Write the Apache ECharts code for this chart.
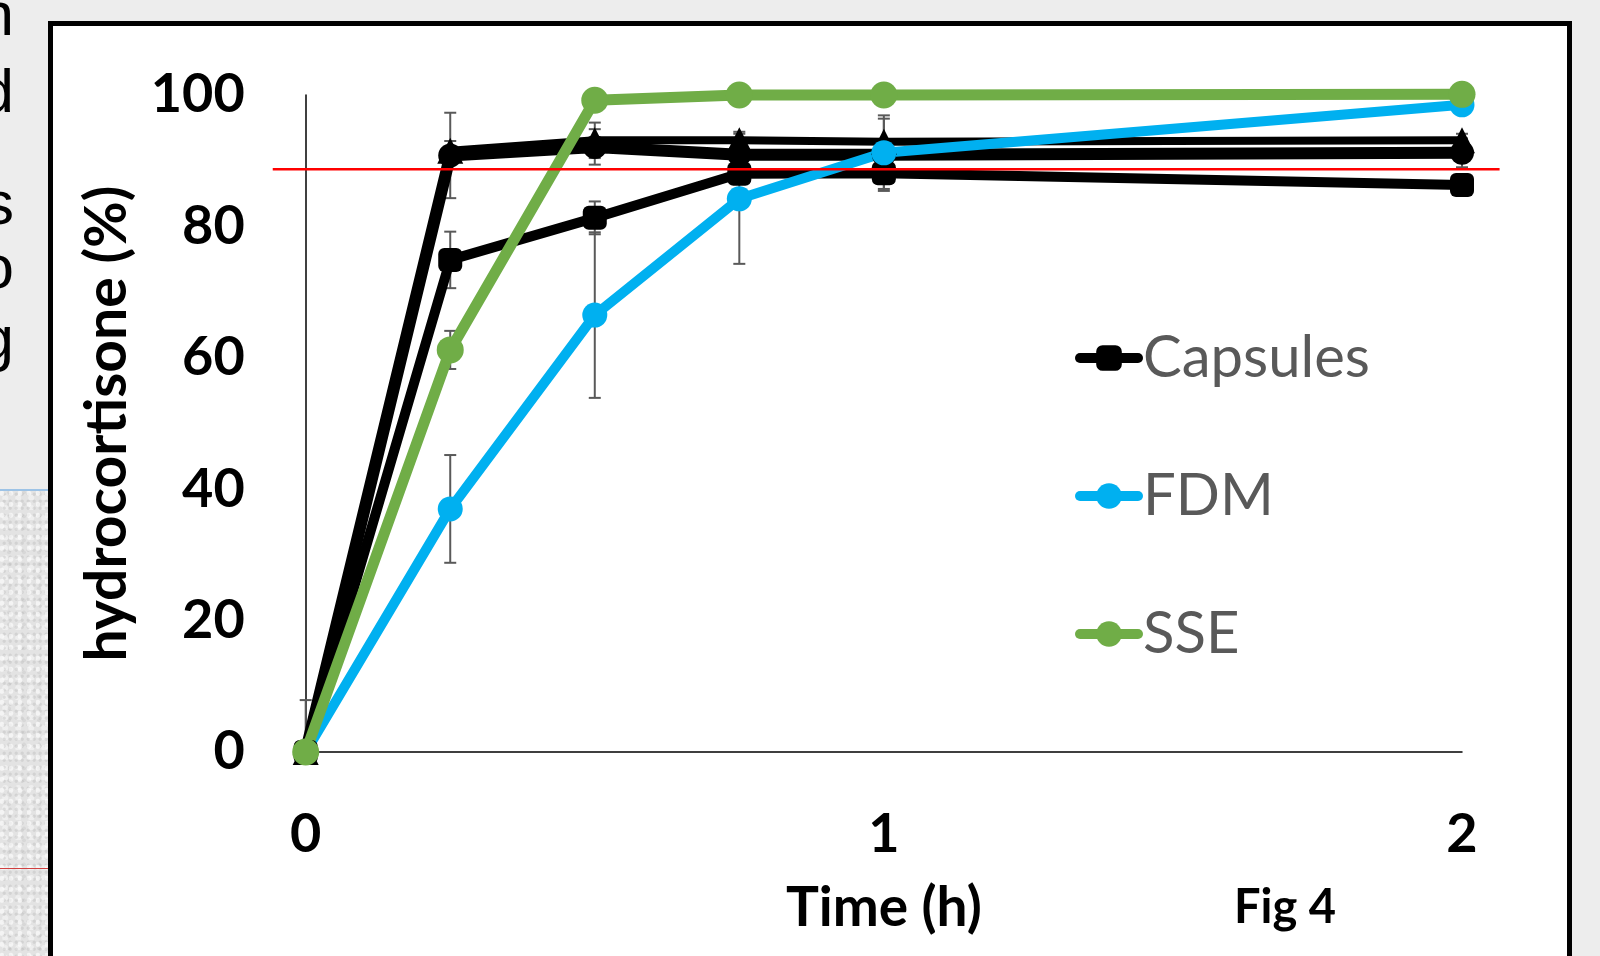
<!DOCTYPE html>
<html>
<head>
<meta charset="utf-8">
<script src="https://cdn.jsdelivr.net/npm/echarts@6/dist/echarts.min.js"></script>
<style>
html,body{margin:0;padding:0;width:1600px;height:956px;overflow:hidden;background:#ededed;}
.frag{position:absolute;left:-100px;width:114px;text-align:right;font-family:"Liberation Sans",sans-serif;font-size:62px;line-height:62px;color:#000;white-space:nowrap;}
#texture{position:absolute;left:0;top:490px;width:50px;height:466px;background-color:#e3e3e3;
 background-image:
  radial-gradient(circle at 20% 30%, rgba(255,255,255,0.6) 0 2px, transparent 3px),
  radial-gradient(circle at 70% 60%, rgba(160,160,160,0.25) 0 1.2px, transparent 2px),
  radial-gradient(circle at 40% 80%, rgba(250,250,250,0.5) 0 2.5px, transparent 3.5px),
  radial-gradient(circle at 60% 20%, rgba(180,180,180,0.25) 0 1.5px, transparent 2.2px);
 background-size:9px 11px,6px 7px,13px 10px,15px 12px;}
#blueline{position:absolute;left:0;top:489px;width:50px;height:2px;background:#9dc3e6;}
#redline{position:absolute;left:0;top:868px;width:50px;height:1px;background:#d04040;}
#frame{position:absolute;left:48px;top:21px;width:1514px;height:980px;border:5px solid #000;background:#fff;}
#chart{position:absolute;left:0;top:0;width:1600px;height:956px;}
</style>
</head>
<body>
<div class="frag" style="top:-17px">n</div>
<div class="frag" style="top:60px">d</div>
<div class="frag" style="top:172px">s</div>
<div class="frag" style="top:236px">o</div>
<div class="frag" style="top:307px">g</div>
<div id="texture"></div>
<div id="blueline"></div>
<div id="redline"></div>
<div id="frame"></div>
<div id="chart"></div>
<script>
// ---- data ----
const times = [0, 0.25, 0.5, 0.75, 1, 2];
const capsules = [0, 74.9, 81.3, 88.0, 88.1, 86.3];
const capsulesErr = [0, 4.3, 2.5, 1.5, 2.4, 1.0];
const blackTri = [0, 91.5, 93.1, 93.1, 92.9, 93.1];
const blackTriErr = [7.9, 1.5, 2.7, 1.3, 4.0, 1.0];
const blackCirc = [0, 90.8, 92.1, 90.9, 90.9, 91.2];
const blackCircErr = [0, 6.5, 2.7, 1.0, 5.5, 2.2];
const fdm = [0, 37.0, 66.5, 84.2, 91.2, 98.5];
const fdmErr = [0, 8.2, 12.6, 9.9, 1.5, 1.0];
const sse = [0, 61.2, 99.2, 100.0, 100.0, 100.1];
const sseErr = [0, 2.9, 0.5, 0.5, 0.5, 0.3];
const yTicks = [0, 20, 40, 60, 80, 100];
const xTicks = [0, 1, 2];
const limitLevel = 88.7;
const limitSpan = [-0.057, 2.065];
const legendNames = ['Capsules', 'FDM', 'SSE'];

// ---- helpers ----
const pairs = vals => times.map((t, i) => [t, vals[i]]);
const errData = (vals, errs) => times.map((t, i) => [t, Math.max(0, vals[i] - errs[i]), vals[i] + errs[i], errs[i]]);
function errRender(params, api) {
  const e = api.value(3);
  if (!(e > 0)) return null;
  const x = api.value(0), lo = api.value(1), hi = api.value(2);
  const pLo = api.coord([x, lo]), pHi = api.coord([x, hi]);
  const hw = 6;
  const style = {stroke: '#595959', lineWidth: 2};
  const children = [
    {type: 'line', shape: {x1: pLo[0], y1: pLo[1], x2: pHi[0], y2: pHi[1]}, style: style},
    {type: 'line', shape: {x1: pHi[0] - hw, y1: pHi[1], x2: pHi[0] + hw, y2: pHi[1]}, style: style}
  ];
  if (lo > 0) children.push({type: 'line', shape: {x1: pLo[0] - hw, y1: pLo[1], x2: pLo[0] + hw, y2: pLo[1]}, style: style});
  return {type: 'group', children: children};
}
const errSeries = (vals, errs) => ({
  type: 'custom', renderItem: errRender, data: errData(vals, errs),
  encode: {x: 0, y: [1, 2]}, z: 1, silent: true, clip: false
});
const lineSeries = (name, vals, color, width, symbol, size) => ({
  name: name, type: 'line', data: pairs(vals), z: 2, clip: false,
  symbol: symbol, symbolSize: size, showAllSymbol: true,
  lineStyle: {color: color, width: width, cap: 'round', join: 'round'},
  itemStyle: {color: color}, emphasis: {disabled: true}
});

const chart = echarts.init(document.getElementById('chart'), null, {renderer: 'canvas'});
const boldFont = 'Lato';
chart.setOption({
  animation: false,
  backgroundColor: 'transparent',
  grid: {left: 305.7, right: 138, top: 95, bottom: 204, containLabel: false, outerBoundsMode: 'none'},
  xAxis: {
    type: 'value', min: xTicks[0], max: xTicks[xTicks.length - 1], interval: 1,
    axisLine: {show: true, onZero: false, lineStyle: {color: '#000', width: 1.5}},
    axisTick: {show: false}, splitLine: {show: false},
    axisLabel: {fontFamily: boldFont, fontWeight: 'bold', fontSize: 54, color: '#000', margin: 56},
    name: 'Time (h)', nameLocation: 'middle', nameGap: 129,
    nameTextStyle: {fontFamily: boldFont, fontWeight: 'bold', fontSize: 55, color: '#000'}
  },
  yAxis: {
    type: 'value', min: yTicks[0], max: yTicks[yTicks.length - 1], interval: 20,
    axisLine: {show: true, lineStyle: {color: '#000', width: 1.5}},
    axisTick: {show: false}, splitLine: {show: false},
    axisLabel: {fontFamily: boldFont, fontWeight: 'bold', fontSize: 54, color: '#000', margin: 61},
    name: 'hydrocortisone (%)', nameLocation: 'middle', nameGap: 170,
    nameTextStyle: {fontFamily: boldFont, fontWeight: 'bold', fontSize: 57, color: '#000'}
  },
  legend: {
    data: legendNames, orient: 'vertical', left: 1070, top: 323,
    itemWidth: 58, itemHeight: 32, itemGap: 78,
    lineStyle: {width: 10},
    textStyle: {fontFamily: 'Lato', fontSize: 58, color: '#595959', lineHeight: 60},
    selectedMode: false
  },
  graphic: [{
    id: 'figlabel', type: 'text', left: 1234, top: 884,
    style: {text: 'Fig 4', fontFamily: boldFont, fontWeight: 'bold', fontSize: 47, fill: '#000'}
  }],
  series: [
    errSeries(blackTri, blackTriErr),
    errSeries(blackCirc, blackCircErr),
    errSeries(capsules, capsulesErr),
    errSeries(fdm, fdmErr),
    errSeries(sse, sseErr),
    lineSeries('Capsules B', blackTri, '#000000', 8, 'triangle', 26),
    lineSeries('Capsules C', blackCirc, '#000000', 12, 'circle', 24),
    lineSeries('Capsules', capsules, '#000000', 10, 'roundRect', 24),
    lineSeries('FDM', fdm, '#00b0f0', 10, 'circle', 25),
    lineSeries('SSE', sse, '#70ad47', 11, 'circle', 27)
  ]
});

// limit line drawn through the axis scales (extends beyond the plot like the reference)
const pA = chart.convertToPixel({gridIndex: 0}, [limitSpan[0], limitLevel]);
const pB = chart.convertToPixel({gridIndex: 0}, [limitSpan[1], limitLevel]);
chart.setOption({
  graphic: [{
    id: 'limit', type: 'line', z: 100, silent: true,
    shape: {x1: pA[0], y1: pA[1], x2: pB[0], y2: pB[1]},
    style: {stroke: '#ff0000', lineWidth: 2.5}
  }]
});
</script>
</body>
</html>
